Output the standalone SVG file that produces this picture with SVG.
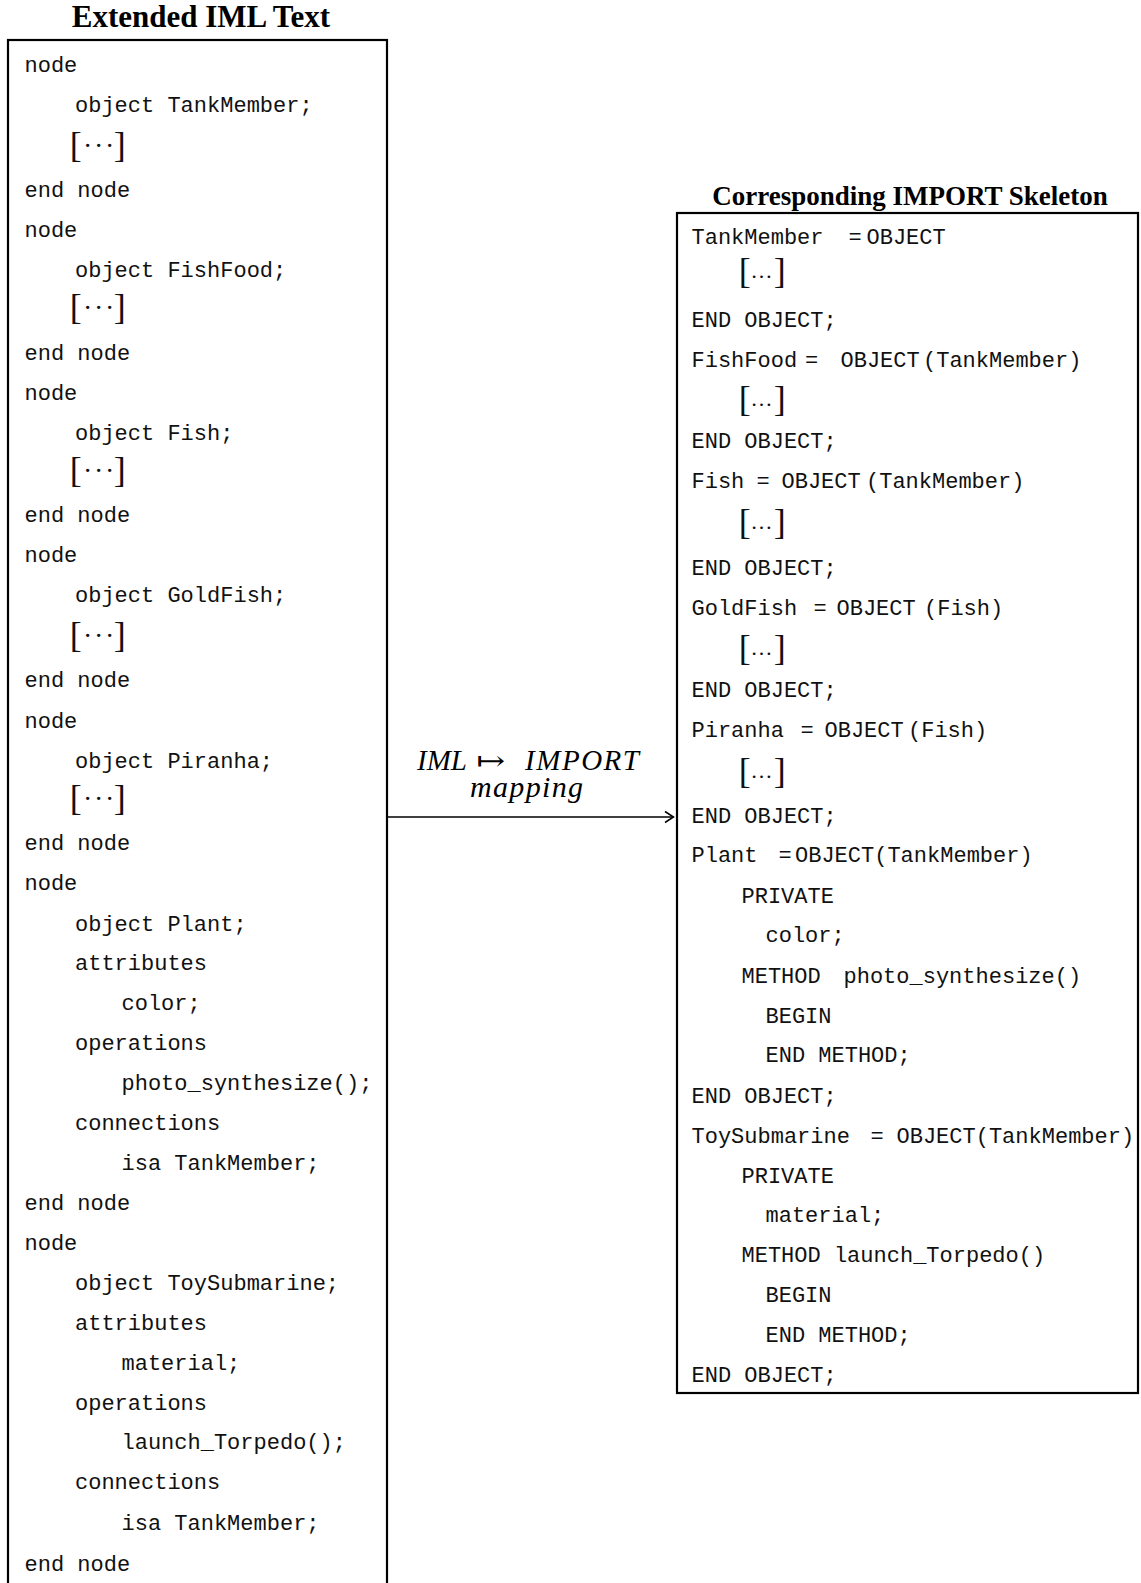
<svg xmlns="http://www.w3.org/2000/svg" width="1141" height="1583" viewBox="0 0 1141 1583">
  <style>
    .box { fill: #fff; stroke: #000; stroke-width: 2.2; }
    .code { font-family: "Courier New", "Liberation Mono", monospace; font-size: 22px; fill: #111; }
    .brk { font-family: "Times New Roman", "Liberation Serif", serif; font-size: 36px; fill: #111; }
    .cdot { font-size: 28px; }
    .ldots { font-size: 22px; }
    .title { font-family: "Times New Roman", "Liberation Serif", serif; font-weight: bold; fill: #000; text-anchor: middle; }
    .lbl { font-family: "Times New Roman", "Liberation Serif", serif; font-style: italic; font-size: 29px; fill: #000; }
    .conn { fill: none; stroke: #000; stroke-width: 1.6; }
  </style>
  <defs>
    <marker id="open-arrow" markerUnits="userSpaceOnUse" markerWidth="12" markerHeight="14" refX="10" refY="7" orient="auto">
      <path d="M1.5,1.5 L10,7 L1.5,12.5" fill="none" stroke="#000" stroke-width="1.5"/>
    </marker>
  </defs>
  <rect width="1141" height="1583" fill="#fff"/>

  <!-- IML source listing -->
  <g id="iml-text">
    <text class="title" x="201" y="27" font-size="31">Extended IML Text</text>
    <rect class="box" x="8" y="40" width="379" height="1570"/>
    <g class="code">
      <text x="24.5" y="71.5">node</text>
      <text x="75" y="111.7">object TankMember;</text>
      <text x="24.5" y="196.7">end node</text>
      <text x="24.5" y="236.9">node</text>
      <text x="75" y="276.5">object FishFood;</text>
      <text x="24.5" y="359.5">end node</text>
      <text x="24.5" y="399.5">node</text>
      <text x="75" y="440">object Fish;</text>
      <text x="24.5" y="521.6">end node</text>
      <text x="24.5" y="562">node</text>
      <text x="75" y="602.4">object GoldFish;</text>
      <text x="24.5" y="687.2">end node</text>
      <text x="24.5" y="727.6">node</text>
      <text x="75" y="768">object Piranha;</text>
      <text x="24.5" y="849.8">end node</text>
      <text x="24.5" y="890.2">node</text>
      <text x="75" y="930.5">object Plant;</text>
      <text x="75" y="970">attributes</text>
      <text x="121.5" y="1010">color;</text>
      <text x="75" y="1050">operations</text>
      <text x="121.5" y="1090">photo_synthesize();</text>
      <text x="75" y="1129.5">connections</text>
      <text x="121.5" y="1170">isa TankMember;</text>
      <text x="24.5" y="1210">end node</text>
      <text x="24.5" y="1250">node</text>
      <text x="75" y="1290">object ToySubmarine;</text>
      <text x="75" y="1329.5">attributes</text>
      <text x="121.5" y="1370">material;</text>
      <text x="75" y="1409.5">operations</text>
      <text x="121.5" y="1449">launch_Torpedo();</text>
      <text x="75" y="1489">connections</text>
      <text x="121.5" y="1530">isa TankMember;</text>
      <text x="24.5" y="1570.5">end node</text>
    </g>
    <!-- elided bodies: [ ··· ] -->
    <g class="brk">
      <text y="156.7"><tspan x="69.8">[</tspan><tspan class="cdot" x="83 94 105" dy="-2">···</tspan><tspan x="113.8" dy="2">]</tspan></text>
      <text y="319"><tspan x="69.8">[</tspan><tspan class="cdot" x="83 94 105" dy="-2">···</tspan><tspan x="113.8" dy="2">]</tspan></text>
      <text y="481.6"><tspan x="69.8">[</tspan><tspan class="cdot" x="83 94 105" dy="-2">···</tspan><tspan x="113.8" dy="2">]</tspan></text>
      <text y="647.2"><tspan x="69.8">[</tspan><tspan class="cdot" x="83 94 105" dy="-2">···</tspan><tspan x="113.8" dy="2">]</tspan></text>
      <text y="809.8"><tspan x="69.8">[</tspan><tspan class="cdot" x="83 94 105" dy="-2">···</tspan><tspan x="113.8" dy="2">]</tspan></text>
    </g>
  </g>

  <!-- generated IMPORT skeleton -->
  <g id="import-skeleton">
    <text class="title" x="910" y="205" font-size="27">Corresponding IMPORT Skeleton</text>
    <rect class="box" x="677" y="213" width="461" height="1180"/>
    <g class="code">
      <text y="244"><tspan x="691.5">TankMember</tspan><tspan x="848.5">=</tspan><tspan x="866.5">OBJECT</tspan></text>
      <text x="691.5" y="327">END OBJECT;</text>
      <text y="367"><tspan x="691.5">FishFood</tspan><tspan x="805">=</tspan><tspan x="840.5">OBJECT</tspan><tspan x="923">(TankMember)</tspan></text>
      <text x="691.5" y="448">END OBJECT;</text>
      <text y="488"><tspan x="691.5">Fish</tspan><tspan x="756.5">=</tspan><tspan x="781.5">OBJECT</tspan><tspan x="866">(TankMember)</tspan></text>
      <text x="691.5" y="575">END OBJECT;</text>
      <text y="615"><tspan x="691.5">GoldFish</tspan><tspan x="813.5">=</tspan><tspan x="836.5">OBJECT</tspan><tspan x="924">(Fish)</tspan></text>
      <text x="691.5" y="697">END OBJECT;</text>
      <text y="737"><tspan x="691.5">Piranha</tspan><tspan x="800.5">=</tspan><tspan x="824.5">OBJECT</tspan><tspan x="908">(Fish)</tspan></text>
      <text x="691.5" y="823">END OBJECT;</text>
      <text y="862"><tspan x="691.5">Plant</tspan><tspan x="778.5">=</tspan><tspan x="795">OBJECT(TankMember)</tspan></text>
      <text x="741.5" y="903">PRIVATE</text>
      <text x="765.5" y="942">color;</text>
      <text y="983"><tspan x="741.5">METHOD</tspan><tspan x="843.5">photo_synthesize()</tspan></text>
      <text x="765.5" y="1023">BEGIN</text>
      <text x="765.5" y="1062">END METHOD;</text>
      <text x="691.5" y="1103">END OBJECT;</text>
      <text y="1143"><tspan x="691.5">ToySubmarine</tspan><tspan x="870.5">=</tspan><tspan x="896.5">OBJECT(TankMember)</tspan></text>
      <text x="741.5" y="1183">PRIVATE</text>
      <text x="765.5" y="1222">material;</text>
      <text x="741.5" y="1262">METHOD launch_Torpedo()</text>
      <text x="765.5" y="1302">BEGIN</text>
      <text x="765.5" y="1342">END METHOD;</text>
      <text x="691.5" y="1382">END OBJECT;</text>
    </g>
    <!-- elided bodies: [ … ] -->
    <g class="brk">
      <text y="283"><tspan x="738.8">[</tspan><tspan class="ldots" x="750.6" dy="-5">…</tspan><tspan x="773.8" dy="5">]</tspan></text>
      <text y="411"><tspan x="738.8">[</tspan><tspan class="ldots" x="750.6" dy="-5">…</tspan><tspan x="773.8" dy="5">]</tspan></text>
      <text y="534"><tspan x="738.8">[</tspan><tspan class="ldots" x="750.6" dy="-5">…</tspan><tspan x="773.8" dy="5">]</tspan></text>
      <text y="660"><tspan x="738.8">[</tspan><tspan class="ldots" x="750.6" dy="-5">…</tspan><tspan x="773.8" dy="5">]</tspan></text>
      <text y="783"><tspan x="738.8">[</tspan><tspan class="ldots" x="750.6" dy="-5">…</tspan><tspan x="773.8" dy="5">]</tspan></text>
    </g>
  </g>

  <!-- mapping connector with its two-line label -->
  <g id="connectors">
    <line class="conn" x1="387" y1="817" x2="673.5" y2="817" marker-end="url(#open-arrow)"/>
    <text class="lbl" y="770"><tspan x="417">IML</tspan><tspan x="476" font-family="DejaVu Serif, serif" font-style="normal" font-size="27" textLength="29" lengthAdjust="spacingAndGlyphs">↦</tspan><tspan x="525" textLength="114">IMPORT</tspan><tspan x="470" dy="27" font-size="30" textLength="113">mapping</tspan></text>
  </g>
</svg>
